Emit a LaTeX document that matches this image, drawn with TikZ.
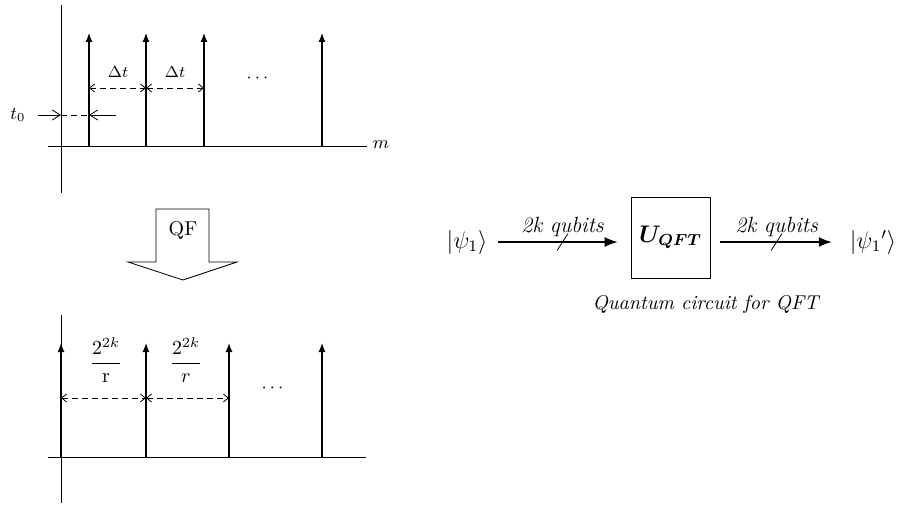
\documentclass[tikz,border=0pt]{standalone}
\usepackage{amsmath,bm}
\usetikzlibrary{arrows.meta,positioning}

\begin{document}
\begin{tikzpicture}[x=0.5pt,y=-0.5pt,
  spike/.style={semithick,-{Latex[length=4.5pt,width=3.5pt]}},
  gap/.style={densely dashed,{Straight Barb[length=2.5pt,width=4pt]}-{Straight Barb[length=2.5pt,width=4pt]}},
  pointer/.style={-{Straight Barb[length=4pt,width=5pt]}},
  wire/.style={semithick,-{Latex[length=6.5pt,width=5pt]}},
  qubits/.style={font=\fontsize{11}{13}\selectfont\itshape}]

\useasboundingbox (0,0) rectangle (903,508);

% top axes
\draw (61,5) -- (61,193);
\draw (48,146) -- (367,146);
\node (m) at (381,145) {\small$m$};

% top spikes
\foreach \x in {89,146,204,322}
  \draw[spike] (\x,146) -- (\x,33);

% spacing Delta t
\draw[gap] (89,88) -- (146,88);
\draw[gap] (146,88) -- (204,88);
\node (dt1) at (118,72) {\footnotesize$\Delta t$};
\node (dt2) at (175,72) {\footnotesize$\Delta t$};
\node (dots1) at (259,78) {\small$\cdots$};

% offset t0
\node (t0) at (18,115) {\small$t_0$};
\draw[pointer] (38,115) -- (61,115);
\draw[densely dashed] (61,115) -- (89,115);
\draw[pointer] (116,115) -- (89,115);

% QF block arrow
\draw (156,209) -- (209,209) -- (209,262) -- (237,262) -- (183,280)
  -- (128,262) -- (156,262) -- cycle;
\node (qf) at (183,230) {QF};

% bottom axes
\draw (61,315) -- (61,503);
\draw (48,457) -- (366,457);

% bottom spikes
\foreach \x in {61,146,229,322}
  \draw[spike] (\x,457) -- (\x,343);

% spacing 2^2k/r
\draw[gap] (61,398) -- (146,398);
\draw[gap] (146,398) -- (229,398);
\node (fr1) at (106,360) {$\dfrac{2^{2k}}{\mathrm{r}}$};
\node (fr2) at (186,360) {$\dfrac{2^{2k}}{r}$};
\node (dots2) at (274,388) {\small$\cdots$};

% quantum circuit
\node (psi) at (467,242) {\large$|\psi_1\rangle$};
\node[draw, minimum width=39.5pt, minimum height=40.5pt] (uqft) at (670.5,237.5)
  {\large$\bm{U}_{\bm{QFT}}$};
\node (psiout) at (873,242) {\large$|\psi_1{}'\rangle$};
\node[below=5pt of uqft, xshift=17.5pt] (cap) {\itshape Quantum circuit for QFT};

\draw[wire, shorten <=2pt, shorten >=6.5pt] (psi) -- coordinate[midway] (s1)
  node[midway, above=-1pt, qubits] {2k qubits} (psi -| uqft.west);
\draw[wire, shorten <=5pt, shorten >=5.5pt] (psi -| uqft.east) -- coordinate[midway] (s2)
  node[midway, above=-1pt, qubits] {2k qubits} (psiout);
\draw (s1) ++(-5.5,8.5) -- ++(11,-17);
\draw (s2) ++(-5.5,8.5) -- ++(11,-17);

\end{tikzpicture}
\end{document}
